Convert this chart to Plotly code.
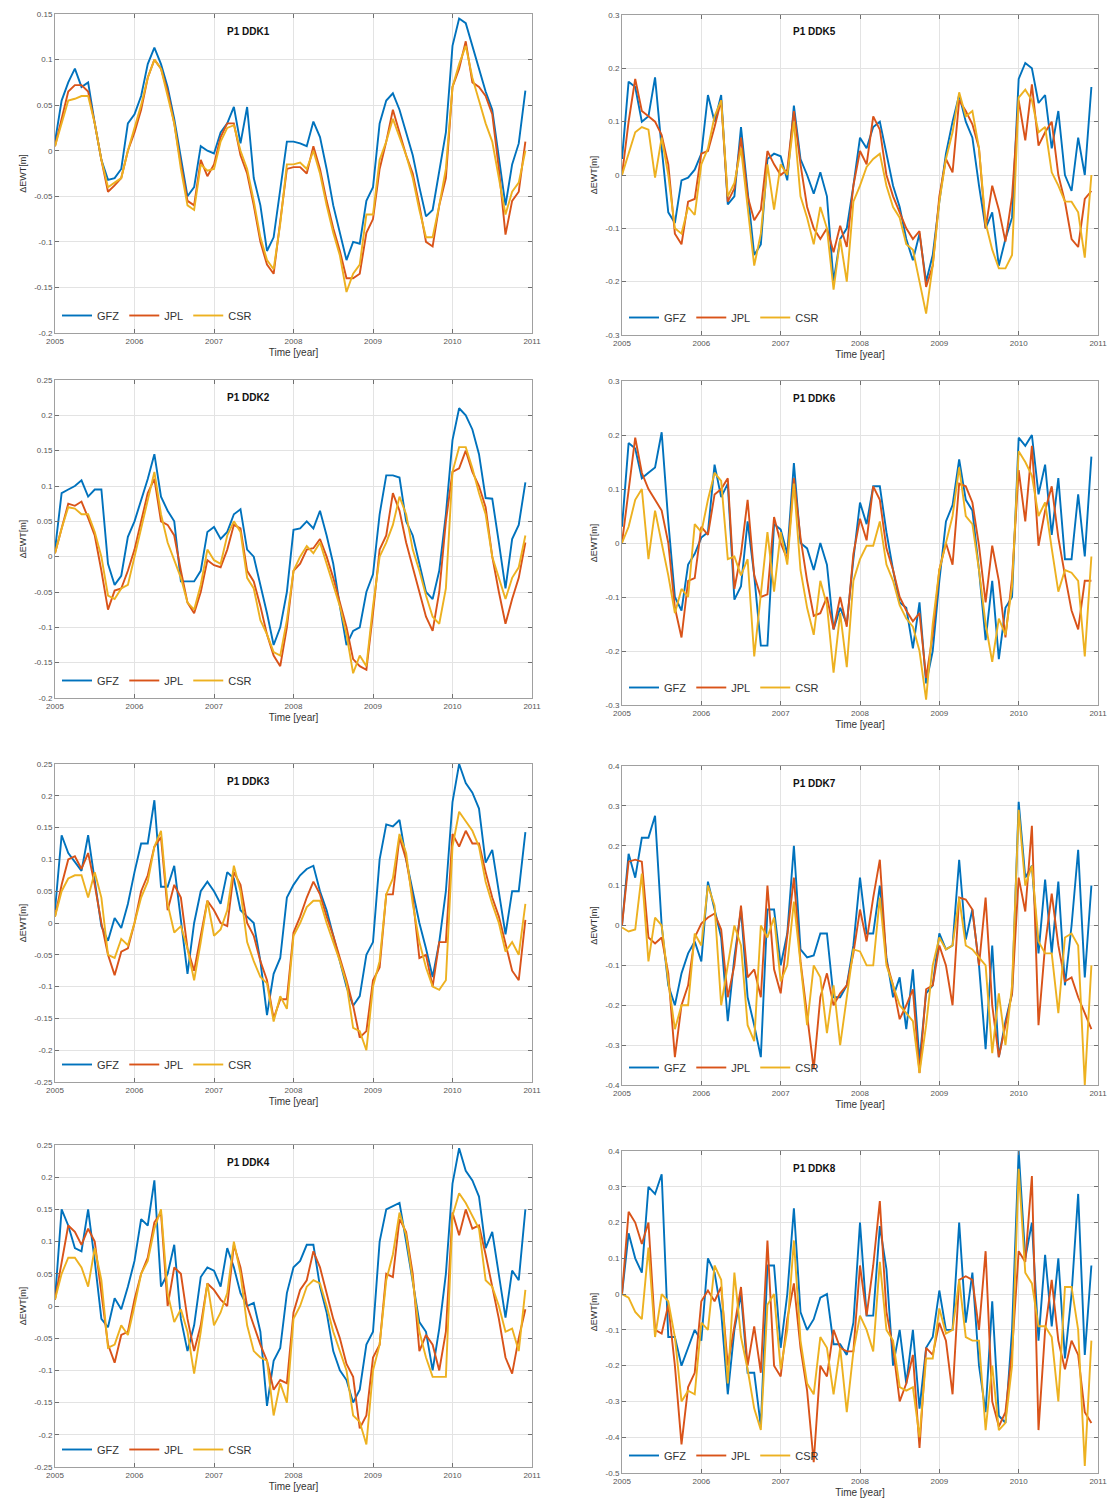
import plotly.graph_objects as go

W, H = 1112, 1505
x_time = [2005 + m / 12 for m in range(72)]

gfz_ddk1 = [0.01,0.055,0.075,0.09,0.07,0.075,0.03,-0.01,-0.032,-0.03,-0.02,0.03,
 0.04,0.06,0.095,0.113,0.095,0.07,0.035,-0.01,-0.05,-0.04,0.005,0.0,
 -0.003,0.02,0.03,0.048,0.008,0.048,-0.03,-0.06,-0.11,-0.095,-0.04,0.01,
 0.01,0.008,0.005,0.032,0.015,-0.02,-0.06,-0.09,-0.12,-0.1,-0.102,-0.055,
 -0.04,0.03,0.055,0.063,0.045,0.02,-0.005,-0.04,-0.072,-0.065,-0.02,0.02,
 0.115,0.145,0.14,0.115,0.09,0.065,0.045,-0.01,-0.06,-0.015,0.008,0.066]
jpl_ddk1 = [0.005,0.035,0.065,0.072,0.072,0.065,0.03,-0.01,-0.045,-0.038,-0.03,0.0,
 0.02,0.045,0.08,0.1,0.09,0.065,0.03,-0.015,-0.055,-0.06,-0.01,-0.028,
 -0.015,0.015,0.03,0.03,-0.005,-0.025,-0.06,-0.1,-0.125,-0.135,-0.08,-0.02,
 -0.018,-0.018,-0.025,0.005,-0.02,-0.055,-0.085,-0.11,-0.14,-0.14,-0.135,-0.09,
 -0.075,-0.02,0.01,0.045,0.02,-0.005,-0.025,-0.06,-0.1,-0.105,-0.06,-0.03,
 0.07,0.09,0.12,0.075,0.07,0.06,0.04,-0.02,-0.092,-0.055,-0.045,0.01]
csr_ddk1 = [0.005,0.03,0.055,0.057,0.06,0.06,0.03,-0.01,-0.04,-0.035,-0.03,0.0,
 0.025,0.05,0.08,0.1,0.09,0.06,0.03,-0.02,-0.06,-0.065,-0.015,-0.022,
 -0.02,0.01,0.025,0.028,0.0,-0.02,-0.055,-0.095,-0.12,-0.13,-0.08,-0.015,
 -0.015,-0.013,-0.02,0.0,-0.025,-0.06,-0.09,-0.115,-0.155,-0.135,-0.125,-0.07,
 -0.07,-0.01,0.01,0.035,0.015,-0.005,-0.03,-0.065,-0.095,-0.095,-0.06,-0.02,
 0.07,0.095,0.115,0.08,0.055,0.03,0.01,-0.03,-0.07,-0.045,-0.035,0.0]

gfz_ddk2 = [0.01,0.09,0.095,0.1,0.108,0.085,0.095,0.095,-0.01,-0.04,-0.027,0.028,
 0.05,0.08,0.11,0.145,0.085,0.065,0.05,-0.035,-0.035,-0.035,-0.02,0.035,
 0.042,0.025,0.035,0.06,0.067,0.01,0.0,-0.04,-0.08,-0.125,-0.1,-0.05,
 0.038,0.04,0.05,0.04,0.065,0.03,-0.01,-0.07,-0.125,-0.105,-0.1,-0.05,
 -0.025,0.06,0.115,0.115,0.112,0.05,0.03,-0.01,-0.05,-0.06,-0.02,0.06,
 0.165,0.21,0.2,0.18,0.145,0.083,0.082,0.02,-0.045,0.025,0.045,0.105]
jpl_ddk2 = [0.005,0.04,0.075,0.072,0.078,0.055,0.03,-0.02,-0.075,-0.048,-0.045,-0.02,
 0.01,0.05,0.09,0.11,0.05,0.045,0.03,-0.02,-0.065,-0.08,-0.05,-0.005,
 -0.012,-0.015,0.01,0.045,0.04,-0.02,-0.035,-0.07,-0.11,-0.14,-0.155,-0.1,
 -0.02,-0.01,0.01,0.012,0.025,0.0,-0.03,-0.065,-0.1,-0.145,-0.155,-0.16,
 -0.08,0.01,0.03,0.09,0.065,0.02,-0.015,-0.05,-0.085,-0.105,-0.05,0.05,
 0.12,0.125,0.15,0.12,0.1,0.07,0.0,-0.05,-0.095,-0.06,-0.03,0.02]
csr_ddk2 = [0.005,0.04,0.07,0.068,0.06,0.06,0.035,0.0,-0.055,-0.06,-0.045,-0.04,
 0.0,0.04,0.08,0.12,0.06,0.02,-0.005,-0.03,-0.065,-0.075,-0.04,0.01,
 -0.005,-0.01,0.03,0.05,0.035,-0.03,-0.045,-0.09,-0.11,-0.135,-0.14,-0.09,
 -0.02,0.0,0.015,0.005,0.02,-0.01,-0.04,-0.07,-0.11,-0.165,-0.14,-0.155,
 -0.07,0.0,0.02,0.045,0.085,0.06,0.01,-0.02,-0.055,-0.085,-0.095,-0.045,
 0.12,0.155,0.155,0.125,0.09,0.06,0.0,-0.03,-0.06,-0.03,-0.015,0.03]

gfz_ddk3 = [0.02,0.138,0.11,0.095,0.082,0.138,0.07,-0.005,-0.028,0.008,-0.008,0.03,
 0.08,0.125,0.125,0.193,0.057,0.057,0.09,0.0,-0.08,0.0,0.05,0.065,
 0.05,0.03,0.08,0.07,0.02,0.01,0.0,-0.06,-0.145,-0.08,-0.055,0.04,
 0.06,0.075,0.085,0.09,0.05,0.02,-0.02,-0.06,-0.1,-0.13,-0.115,-0.05,
 -0.03,0.1,0.155,0.152,0.162,0.1,0.05,0.0,-0.04,-0.085,-0.03,0.05,
 0.19,0.25,0.22,0.205,0.18,0.095,0.115,0.05,-0.018,0.05,0.05,0.143]
jpl_ddk3 = [0.01,0.06,0.1,0.105,0.085,0.11,0.06,0.0,-0.05,-0.082,-0.045,-0.04,
 0.0,0.05,0.075,0.12,0.135,0.02,0.06,0.04,-0.04,-0.075,-0.02,0.035,
 0.02,0.0,-0.005,0.08,0.06,0.0,-0.02,-0.06,-0.09,-0.15,-0.12,-0.12,
 -0.015,0.01,0.04,0.065,0.045,0.01,-0.02,-0.055,-0.09,-0.13,-0.18,-0.17,
 -0.09,-0.07,0.045,0.045,0.135,0.1,0.04,-0.055,-0.05,-0.1,-0.03,-0.03,
 0.14,0.12,0.145,0.125,0.125,0.08,0.04,0.01,-0.035,-0.075,-0.09,0.005]
csr_ddk3 = [0.01,0.05,0.07,0.075,0.075,0.04,0.08,0.04,-0.05,-0.055,-0.025,-0.035,
 0.0,0.04,0.065,0.12,0.145,0.03,-0.015,-0.005,-0.04,-0.09,-0.03,0.035,
 -0.02,-0.01,0.02,0.09,0.05,-0.03,-0.06,-0.085,-0.095,-0.155,-0.115,-0.135,
 -0.02,0.0,0.025,0.035,0.035,0.0,-0.03,-0.06,-0.095,-0.165,-0.17,-0.2,
 -0.1,-0.06,0.045,0.07,0.14,0.11,0.03,-0.03,-0.07,-0.1,-0.105,-0.09,
 0.12,0.175,0.16,0.145,0.12,0.065,0.03,0.0,-0.045,-0.03,-0.05,0.03]

gfz_ddk4 = [0.01,0.15,0.125,0.09,0.085,0.15,0.07,-0.02,-0.033,0.012,-0.005,0.03,
 0.07,0.135,0.125,0.195,0.03,0.05,0.095,-0.02,-0.07,-0.03,0.045,0.06,
 0.055,0.03,0.09,0.06,0.02,0.0,0.005,-0.04,-0.155,-0.085,-0.065,0.02,
 0.06,0.07,0.095,0.095,0.03,-0.01,-0.07,-0.1,-0.115,-0.15,-0.13,-0.06,
 -0.04,0.1,0.15,0.155,0.16,0.1,0.04,-0.025,-0.04,-0.1,-0.035,0.05,
 0.19,0.245,0.21,0.195,0.17,0.09,0.115,0.05,-0.018,0.055,0.04,0.15]
jpl_ddk4 = [0.01,0.07,0.125,0.115,0.095,0.12,0.1,0.02,-0.06,-0.088,-0.045,-0.04,
 0.01,0.05,0.075,0.13,0.145,0.0,0.06,0.05,-0.02,-0.07,-0.03,0.035,
 0.025,0.01,0.0,0.095,0.06,0.0,-0.03,-0.06,-0.085,-0.13,-0.115,-0.12,
 -0.01,0.025,0.04,0.085,0.06,0.02,-0.02,-0.05,-0.09,-0.11,-0.19,-0.17,
 -0.08,-0.06,0.05,0.045,0.135,0.115,0.05,-0.07,-0.045,-0.06,-0.1,-0.04,
 0.145,0.11,0.15,0.12,0.125,0.08,0.03,-0.02,-0.08,-0.105,-0.05,-0.005]
csr_ddk4 = [0.01,0.05,0.075,0.075,0.06,0.03,0.09,0.04,-0.065,-0.06,-0.03,-0.045,
 0.0,0.05,0.07,0.12,0.15,0.02,-0.025,-0.005,-0.04,-0.105,-0.04,0.035,
 -0.03,-0.01,0.02,0.1,0.05,-0.03,-0.07,-0.08,-0.085,-0.17,-0.12,-0.15,
 -0.02,0.0,0.03,0.04,0.035,0.0,-0.04,-0.07,-0.1,-0.17,-0.18,-0.215,
 -0.1,-0.06,0.04,0.08,0.145,0.11,0.04,-0.04,-0.08,-0.11,-0.11,-0.11,
 0.14,0.175,0.16,0.14,0.12,0.04,0.03,0.0,-0.04,-0.035,-0.07,0.025]

gfz_ddk5 = [0.03,0.175,0.165,0.1,0.11,0.183,0.05,-0.07,-0.09,-0.01,-0.005,0.01,
 0.04,0.15,0.1,0.15,-0.055,-0.04,0.09,-0.03,-0.15,-0.13,0.03,0.04,
 0.035,-0.01,0.13,0.03,0.0,-0.035,0.005,-0.04,-0.2,-0.12,-0.1,-0.02,
 0.07,0.05,0.09,0.1,0.04,-0.02,-0.06,-0.12,-0.16,-0.11,-0.2,-0.15,
 -0.05,0.04,0.1,0.15,0.1,0.07,-0.02,-0.1,-0.07,-0.17,-0.12,-0.08,
 0.18,0.21,0.2,0.135,0.15,0.05,0.12,0.0,-0.03,0.07,0.0,0.165]
jpl_ddk5 = [0.0,0.1,0.18,0.12,0.11,0.1,0.075,0.02,-0.11,-0.13,-0.05,-0.045,
 0.04,0.045,0.09,0.14,-0.05,-0.025,0.07,-0.04,-0.085,-0.065,0.045,0.02,
 0.0,0.01,0.12,0.02,-0.06,-0.1,-0.12,-0.1,-0.145,-0.095,-0.135,-0.02,
 0.045,0.02,0.11,0.085,0.0,-0.04,-0.07,-0.1,-0.12,-0.105,-0.21,-0.17,
 -0.04,0.03,0.005,0.14,0.12,0.095,0.05,-0.1,-0.02,-0.065,-0.125,-0.04,
 0.14,0.065,0.17,0.055,0.08,0.1,0.0,-0.05,-0.12,-0.135,-0.045,-0.03]
csr_ddk5 = [0.0,0.04,0.08,0.09,0.085,-0.005,0.07,0.0,-0.1,-0.11,-0.06,-0.075,
 0.02,0.05,0.11,0.14,-0.04,-0.015,0.05,-0.06,-0.17,-0.11,0.02,-0.065,
 0.02,0.0,0.1,-0.04,-0.08,-0.13,-0.06,-0.1,-0.215,-0.12,-0.2,-0.05,
 -0.02,0.015,0.03,0.04,-0.02,-0.06,-0.08,-0.13,-0.14,-0.2,-0.26,-0.17,
 -0.05,0.03,0.08,0.155,0.11,0.12,0.05,-0.09,-0.14,-0.175,-0.175,-0.15,
 0.145,0.16,0.14,0.08,0.09,0.005,-0.02,-0.05,-0.05,-0.07,-0.155,0.0]

gfz_ddk6 = [0.03,0.185,0.175,0.12,0.13,0.14,0.205,0.04,-0.1,-0.125,-0.04,-0.02,
 0.01,0.02,0.145,0.085,0.11,-0.105,-0.08,0.04,-0.06,-0.19,-0.19,0.035,
 0.025,-0.02,0.148,0.0,-0.01,-0.05,0.0,-0.04,-0.16,-0.12,-0.15,-0.03,
 0.075,0.035,0.105,0.105,0.02,-0.05,-0.11,-0.12,-0.195,-0.11,-0.26,-0.2,
 -0.07,0.04,0.07,0.155,0.08,0.06,-0.05,-0.18,-0.07,-0.215,-0.12,-0.1,
 0.195,0.18,0.2,0.09,0.145,0.015,0.12,-0.03,-0.03,0.09,-0.025,0.16]
jpl_ddk6 = [0.0,0.1,0.195,0.13,0.1,0.08,0.06,0.0,-0.12,-0.175,-0.07,-0.065,
 0.03,0.015,0.09,0.1,0.12,-0.085,-0.02,0.08,-0.06,-0.1,-0.095,0.048,
 0.0,-0.03,0.12,0.01,-0.07,-0.135,-0.13,-0.1,-0.16,-0.1,-0.155,-0.02,
 0.045,0.005,0.105,0.08,-0.01,-0.05,-0.1,-0.125,-0.145,-0.13,-0.25,-0.17,
 -0.05,0.0,-0.04,0.11,0.105,0.075,-0.005,-0.11,-0.005,-0.07,-0.175,-0.065,
 0.135,0.04,0.18,-0.005,0.06,0.105,0.01,-0.06,-0.125,-0.16,-0.07,-0.07]
csr_ddk6 = [0.0,0.03,0.08,0.1,-0.03,0.06,0.0,-0.06,-0.13,-0.085,-0.1,0.035,
 0.02,0.08,0.13,0.115,-0.03,-0.025,-0.06,-0.03,-0.21,-0.1,0.02,-0.09,
 0.02,-0.04,0.11,-0.05,-0.12,-0.17,-0.07,-0.115,-0.24,-0.13,-0.23,-0.07,
 -0.03,-0.005,-0.005,0.04,-0.04,-0.07,-0.115,-0.14,-0.155,-0.2,-0.29,-0.15,
 -0.05,0.0,0.05,0.14,0.05,0.035,-0.05,-0.15,-0.22,-0.14,-0.17,-0.08,
 0.17,0.15,0.125,0.05,0.075,-0.01,-0.09,-0.05,-0.055,-0.07,-0.21,-0.025]

gfz_ddk7 = [0.0,0.18,0.12,0.22,0.22,0.275,0.0,-0.15,-0.2,-0.12,-0.07,-0.04,
 -0.09,0.11,0.04,-0.03,-0.24,-0.08,0.04,-0.18,-0.25,-0.33,0.04,0.04,
 -0.1,-0.02,0.2,-0.06,-0.08,-0.075,-0.02,-0.02,-0.18,-0.18,-0.15,-0.05,
 0.12,-0.02,-0.02,0.1,-0.08,-0.18,-0.13,-0.26,-0.11,-0.34,-0.17,-0.15,
 -0.02,-0.06,-0.05,0.165,-0.035,0.04,-0.1,-0.31,-0.05,-0.33,-0.24,-0.17,
 0.31,0.12,0.15,-0.07,0.115,-0.07,0.11,-0.15,0.0,0.19,-0.13,0.1]
jpl_ddk7 = [0.0,0.16,0.165,0.16,-0.03,-0.045,-0.03,-0.12,-0.33,-0.2,-0.15,-0.03,
 0.005,0.02,0.03,-0.01,-0.18,-0.1,0.05,-0.13,-0.11,-0.18,0.1,-0.11,
 -0.17,-0.03,0.12,-0.09,-0.22,-0.36,-0.18,-0.12,-0.2,-0.17,-0.15,-0.07,
 0.04,-0.04,0.07,0.165,-0.09,-0.15,-0.235,-0.2,-0.16,-0.37,-0.16,-0.15,
 -0.05,-0.1,-0.2,0.07,0.065,0.04,-0.1,0.07,-0.2,-0.33,-0.25,-0.17,
 0.12,0.035,0.25,-0.25,-0.05,0.08,-0.05,-0.14,-0.13,-0.18,-0.22,-0.26]
csr_ddk7 = [-0.005,-0.015,-0.01,0.13,-0.09,0.02,0.0,-0.14,-0.26,-0.2,-0.2,-0.02,
 -0.05,0.1,0.05,-0.2,-0.1,0.0,-0.05,-0.25,-0.29,0.0,-0.03,0.02,
 -0.14,-0.1,0.06,-0.1,-0.25,-0.1,-0.13,-0.27,-0.15,-0.3,-0.18,-0.06,
 -0.065,-0.1,-0.1,0.07,-0.1,-0.15,-0.2,-0.22,-0.24,-0.37,-0.25,-0.1,
 -0.03,-0.06,-0.05,0.07,-0.05,-0.06,-0.08,-0.1,-0.32,-0.17,-0.3,-0.15,
 0.29,0.1,0.15,-0.04,-0.07,-0.07,-0.22,-0.03,-0.02,-0.05,-0.4,-0.1]

gfz_ddk8 = [0.0,0.17,0.1,0.06,0.3,0.28,0.335,-0.12,-0.12,-0.2,-0.15,-0.1,
 -0.13,0.1,0.06,-0.05,-0.28,-0.1,0.0,-0.22,-0.22,-0.37,0.08,0.08,
 -0.15,0.0,0.24,-0.05,-0.1,-0.07,-0.01,0.0,-0.14,-0.14,-0.17,-0.08,
 0.2,-0.06,-0.06,0.19,0.07,-0.2,-0.1,-0.25,-0.1,-0.32,-0.15,-0.12,
 0.01,-0.1,-0.1,0.2,-0.08,0.06,-0.2,-0.33,-0.02,-0.34,-0.36,-0.1,
 0.4,0.1,0.2,-0.13,0.11,-0.09,0.1,-0.18,0.0,0.28,-0.17,0.08]
jpl_ddk8 = [0.0,0.23,0.2,0.14,0.2,-0.1,-0.11,-0.03,-0.2,-0.42,-0.26,-0.22,
 -0.02,0.01,-0.02,0.02,-0.2,-0.09,0.02,-0.2,-0.09,-0.22,0.15,-0.2,
 -0.23,-0.07,0.03,-0.15,-0.27,-0.47,-0.2,-0.23,-0.1,-0.15,-0.16,-0.16,
 0.08,-0.06,0.08,0.26,-0.05,-0.15,-0.3,-0.25,-0.17,-0.43,-0.15,-0.17,
 -0.08,-0.13,-0.28,0.04,0.05,0.04,-0.1,0.12,-0.3,-0.37,-0.33,-0.16,
 0.12,0.09,0.33,-0.38,-0.1,0.04,-0.13,-0.21,-0.13,-0.17,-0.33,-0.36]
csr_ddk8 = [0.0,-0.01,-0.05,-0.07,0.13,-0.12,0.0,-0.02,-0.12,-0.3,-0.27,-0.28,
 -0.08,-0.1,0.08,0.04,-0.25,0.06,-0.12,-0.21,-0.32,-0.38,-0.03,0.0,
 -0.21,-0.1,0.15,-0.13,-0.25,-0.28,-0.12,-0.15,-0.28,-0.15,-0.33,-0.16,
 -0.06,-0.1,-0.16,0.09,-0.1,-0.13,-0.26,-0.27,-0.26,-0.4,-0.18,-0.18,
 -0.04,-0.11,-0.1,0.04,-0.12,-0.13,-0.13,-0.38,-0.2,-0.38,-0.36,-0.2,
 0.35,0.06,0.03,-0.09,-0.09,-0.12,-0.3,0.02,0.02,-0.1,-0.48,-0.13]

x_ticks = [2005, 2006, 2007, 2008, 2009, 2010, 2011]
x_tick_labels = ["2005", "2006", "2007", "2008", "2009", "2010", "2011"]
yticks_ddk1 = [-0.2, -0.15, -0.1, -0.05, 0, 0.05, 0.1, 0.15]
yticks_ddk2 = [-0.2, -0.15, -0.1, -0.05, 0, 0.05, 0.1, 0.15, 0.2, 0.25]
yticks_ddk34 = [-0.25, -0.2, -0.15, -0.1, -0.05, 0, 0.05, 0.1, 0.15, 0.2, 0.25]
yticks_ddk56 = [-0.3, -0.2, -0.1, 0, 0.1, 0.2, 0.3]
yticks_ddk7 = [-0.4, -0.3, -0.2, -0.1, 0, 0.1, 0.2, 0.3, 0.4]
yticks_ddk8 = [-0.5, -0.4, -0.3, -0.2, -0.1, 0, 0.1, 0.2, 0.3, 0.4]

series_names = ["GFZ", "JPL", "CSR"]
colors = ["#0072BD", "#D95319", "#EDB120"]

# (title, series, yticks, page-pixel box: left, right, top, bottom)
panels = [
    ("P1 DDK1", [gfz_ddk1, jpl_ddk1, csr_ddk1], yticks_ddk1, (55, 532, 14, 333)),
    ("P1 DDK2", [gfz_ddk2, jpl_ddk2, csr_ddk2], yticks_ddk2, (55, 532, 380, 698)),
    ("P1 DDK3", [gfz_ddk3, jpl_ddk3, csr_ddk3], yticks_ddk34, (55, 532, 764, 1082)),
    ("P1 DDK4", [gfz_ddk4, jpl_ddk4, csr_ddk4], yticks_ddk34, (55, 532, 1145, 1467)),
    ("P1 DDK5", [gfz_ddk5, jpl_ddk5, csr_ddk5], yticks_ddk56, (622, 1098, 15, 335)),
    ("P1 DDK6", [gfz_ddk6, jpl_ddk6, csr_ddk6], yticks_ddk56, (622, 1098, 381, 705)),
    ("P1 DDK7", [gfz_ddk7, jpl_ddk7, csr_ddk7], yticks_ddk7, (622, 1098, 766, 1085)),
    ("P1 DDK8", [gfz_ddk8, jpl_ddk8, csr_ddk8], yticks_ddk8, (622, 1098, 1151, 1473)),
]

def px_x(p):
    return p / W

def px_y(p):
    return 1 - p / H

FONT = "Liberation Sans, Arial, sans-serif"
fig = go.Figure()
layout = dict(
    width=W, height=H, autosize=False,
    margin=dict(l=0, r=0, t=0, b=0, pad=0, autoexpand=False),
    paper_bgcolor="white", plot_bgcolor="white",
    font=dict(family=FONT, color="#333333"),
    showlegend=True,
    annotations=[],
)

def fmt(v):
    return "%g" % round(v, 4)

for i, (title, series, yticks, (px0, px1, py0, py1)) in enumerate(panels, start=1):
    sfx = "" if i == 1 else str(i)
    xa, ya = "xaxis" + sfx, "yaxis" + sfx
    lg = "legend" + sfx
    for name, vals, col in zip(series_names, series, colors):
        fig.add_trace(go.Scatter(
            x=x_time, y=vals, mode="lines", name=name,
            line=dict(color=col, width=1.9),
            xaxis="x" + sfx, yaxis="y" + sfx, legend=lg,
        ))
    layout[xa] = dict(
        domain=[px_x(px0), px_x(px1)], anchor="y" + sfx, range=[2005, 2011], automargin=False,
        tickvals=x_ticks, ticktext=x_tick_labels,
        showgrid=True, gridcolor="#e3e3e3", gridwidth=1,
        showline=True, mirror="ticks", linecolor="#a0a0a0", linewidth=1,
        ticks="inside", ticklen=4, tickcolor="#707070",
        zeroline=False, tickfont=dict(size=8, color="#555555", family=FONT),
        title=dict(text="Time [year]", font=dict(size=10, color="#333333", family=FONT), standoff=4),
    )
    layout[ya] = dict(
        domain=[px_y(py1), px_y(py0)], anchor="x" + sfx, range=[yticks[0], yticks[-1]], automargin=False,
        tickvals=yticks, ticktext=[fmt(v) for v in yticks],
        showgrid=True, gridcolor="#e3e3e3", gridwidth=1,
        showline=True, mirror="ticks", linecolor="#a0a0a0", linewidth=1,
        ticks="inside", ticklen=4, tickcolor="#707070",
        zeroline=False, tickfont=dict(size=8, color="#555555", family=FONT),
        title=dict(text="ΔEWT[m]", font=dict(size=9, color="#333333", family=FONT), standoff=6),
    )
    layout[lg] = dict(
        orientation="h", x=px_x(px0 + 2), y=px_y(py1 - 3),
        xanchor="left", yanchor="bottom",
        bgcolor="rgba(255,255,255,0)", borderwidth=0,
        font=dict(size=11, color="#333333", family=FONT),
        itemwidth=30, tracegroupgap=0,
    )
    layout["annotations"].append(dict(
        text="<b>" + title + "</b>", xref="paper", yref="paper",
        x=px_x(px0 + 0.405 * (px1 - px0)), y=px_y(py0 + 17),
        xanchor="center", yanchor="middle", showarrow=False,
        font=dict(size=10, color="#111111", family=FONT),
    ))

fig.update_layout(**layout)
fig.write_html(
    "out.html",
    config={"displayModeBar": False},
    post_script="document.body.style.margin='0';document.body.style.overflow='hidden';",
)
